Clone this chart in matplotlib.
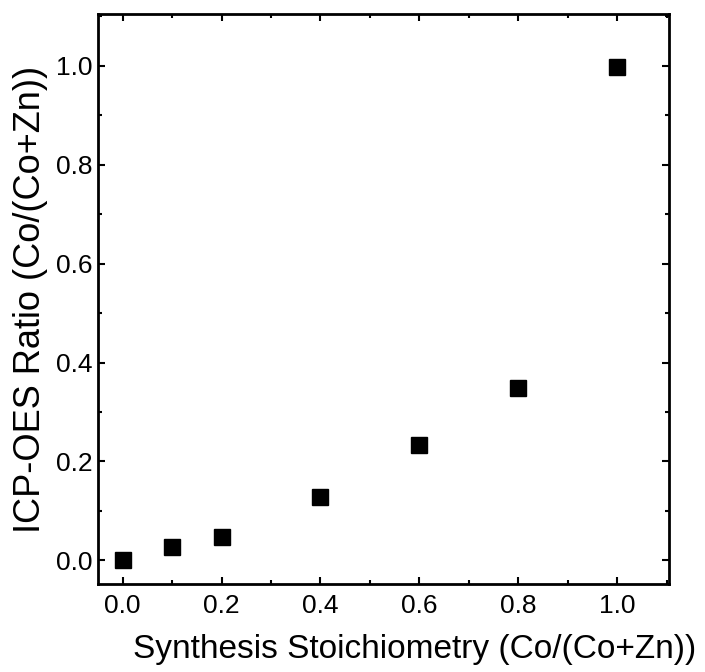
import numpy as np
import matplotlib
matplotlib.use("Agg")
import matplotlib.pyplot as plt
from matplotlib.ticker import MultipleLocator

# data
synthesis = [0.0, 0.1, 0.2, 0.4, 0.6, 0.8, 1.0]
icp_ratio = [0.0, 0.027, 0.047, 0.128, 0.233, 0.348, 0.997]

plt.rcParams['font.family'] = ['Liberation Sans', 'DejaVu Sans']

fig = plt.figure(figsize=(7.05, 6.72), dpi=100)
ax = fig.add_axes([98/705, 1 - 584/672, 571/705, 570/672])

ax.plot(synthesis, icp_ratio, linestyle='none', marker='s', color='black', markersize=11)

ax.set_xlim(-0.05, 1.105)
ax.set_ylim(-0.048, 1.105)
ax.xaxis.set_major_locator(MultipleLocator(0.2))
ax.xaxis.set_minor_locator(MultipleLocator(0.1))
ax.yaxis.set_major_locator(MultipleLocator(0.2))
ax.yaxis.set_minor_locator(MultipleLocator(0.1))
ax.tick_params(which='both', direction='in', top=True, right=True, labelsize=19, width=1.5)
ax.tick_params(which='major', length=5)
ax.tick_params(which='minor', length=3)
ax.tick_params(axis='x', pad=7)
ax.tick_params(axis='y', pad=4)
for s in ax.spines.values():
    s.set_linewidth(2)

ax.set_xlabel('Synthesis Stoichiometry (Co/(Co+Zn))', fontsize=24)
ax.set_ylabel('ICP-OES Ratio (Co/(Co+Zn))', fontsize=26)
ax.xaxis.set_label_coords(0.555, -0.088)
ax.yaxis.set_label_coords(-0.087, 0.5)

fig.savefig('out.png', dpi=100)
